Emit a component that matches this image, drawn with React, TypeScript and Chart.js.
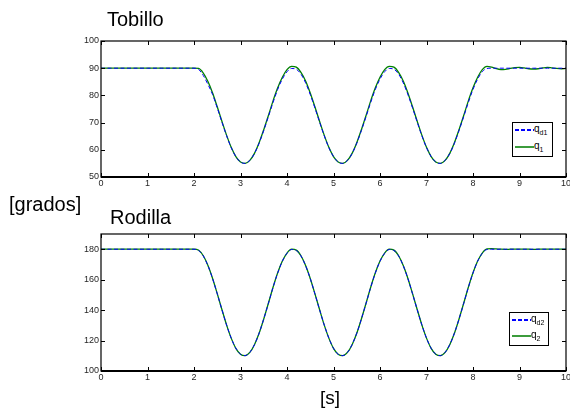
import React, { useEffect, useRef } from "react";
import { Chart, registerables } from "chart.js";

Chart.register(...registerables);

// sample times 0.0 .. 10.0 s every 0.1 s
const TIME = Array.from({ length: 101 }, (_, i) => Math.round(i) / 10);
const X_TICKS = [0, 1, 2, 3, 4, 5, 6, 7, 8, 9, 10];
const Y_TICKS_TOP = [50, 60, 70, 80, 90, 100];
const Y_TICKS_BOTTOM = [100, 120, 140, 160, 180];

// Tobillo (ankle) desired trajectory q_d1
const QD1 = [
  90, 90, 90, 90, 90, 90, 90, 90, 90, 90, 90, 90, 90, 90, 90, 90, 90, 90, 90, 90, 90,
  89.5, 87.3, 84.0, 80.3, 75.4, 70.2, 65.2, 60.8, 57.5, 55.5, 55.0, 56.1, 58.6, 62.4, 67.1, 72.2, 77.4, 82.2, 86.0, 88.7, 89.9,
  89.6, 87.8, 84.6, 80.3, 75.4, 70.2, 65.2, 60.8, 57.5, 55.5, 55.0, 56.1, 58.6, 62.4, 67.1, 72.2, 77.4, 82.2, 86.0, 88.7, 89.9,
  89.6, 87.8, 84.6, 80.3, 75.4, 70.2, 65.2, 60.8, 57.5, 55.5, 55.0, 56.1, 58.6, 62.4, 67.1, 72.2, 77.4, 82.2, 86.0, 88.7, 89.9,
  90, 90, 90, 90, 90, 90, 90, 90, 90, 90, 90, 90, 90, 90, 90, 90, 90,
];

// Tobillo measured q_1
const Q1 = [
  90, 90, 90, 90, 90, 90, 90, 90, 90, 90, 90, 90, 90, 90, 90, 90, 90, 90, 90, 90, 90,
  89.9, 88.2, 85.1, 80.9, 75.8, 70.5, 65.4, 60.9, 57.5, 55.5, 55.0, 56.1, 58.7, 62.6, 67.4, 72.6, 78.0, 82.8, 86.7, 89.5, 90.7,
  90.4, 88.5, 85.3, 80.9, 75.8, 70.5, 65.4, 60.9, 57.5, 55.5, 55.0, 56.1, 58.7, 62.6, 67.4, 72.6, 78.0, 82.8, 86.7, 89.5, 90.7,
  90.4, 88.5, 85.3, 80.9, 75.8, 70.5, 65.4, 60.9, 57.5, 55.5, 55.0, 56.1, 58.7, 62.6, 67.4, 72.6, 78.0, 82.8, 86.7, 89.5, 90.7,
  90.4, 89.8, 89.5, 89.6, 89.9, 90.2, 90.3, 90.1, 89.8, 89.7, 89.8, 90.1, 90.3, 90.1, 89.9, 89.8, 89.9,
];

// Rodilla (knee) desired trajectory q_d2
const QD2 = [
  180, 180, 180, 180, 180, 180, 180, 180, 180, 180, 180, 180, 180, 180, 180, 180, 180, 180, 180, 180, 180,
  179.2, 175.6, 169.2, 160.7, 150.7, 140.3, 130.3, 121.6, 114.9, 111.0, 110.1, 112.2, 117.3, 124.8, 134.2, 144.4, 154.9, 164.4, 172.1, 177.4, 179.8,
  179.2, 175.6, 169.2, 160.7, 150.7, 140.3, 130.3, 121.6, 114.9, 111.0, 110.1, 112.2, 117.3, 124.8, 134.2, 144.4, 154.9, 164.4, 172.1, 177.4, 179.8,
  179.2, 175.6, 169.2, 160.7, 150.7, 140.3, 130.3, 121.6, 114.9, 111.0, 110.1, 112.2, 117.3, 124.8, 134.2, 144.4, 154.9, 164.4, 172.1, 177.4, 179.8,
  180, 180, 180, 180, 180, 180, 180, 180, 180, 180, 180, 180, 180, 180, 180, 180, 180,
];

// Rodilla measured q_2
const Q2 = [
  180, 180, 180, 180, 180, 180, 180, 180, 180, 180, 180, 180, 180, 180, 180, 180, 180, 180, 180, 180, 180,
  179.3, 175.7, 169.3, 160.8, 150.8, 140.4, 130.3, 121.6, 114.9, 111.0, 110.1, 112.2, 117.3, 124.8, 134.2, 144.5, 155.0, 164.5, 172.2, 177.5, 180.0,
  179.4, 175.7, 169.3, 160.8, 150.8, 140.4, 130.3, 121.6, 114.9, 111.0, 110.1, 112.2, 117.3, 124.8, 134.2, 144.5, 155.0, 164.5, 172.2, 177.5, 180.0,
  179.4, 175.7, 169.3, 160.8, 150.8, 140.4, 130.3, 121.6, 114.9, 111.0, 110.1, 112.2, 117.3, 124.8, 134.2, 144.5, 155.0, 164.5, 172.2, 177.5, 180.2,
  180.4, 180.2, 180.0, 179.9, 180.0, 180.1, 180.1, 180.0, 180.0, 179.9, 180.0, 180.0, 180.1, 180.0, 180.0, 180.0, 180.0,
];

const FONT = "'Liberation Sans', Arial, Helvetica, sans-serif";
const BLUE = "#0000ff";
const GREEN = "#008000";

const framePlugin = {
  id: "matlabFrame",
  afterDatasetsDraw(chart: any) {
    const { ctx, chartArea: a, scales } = chart;
    ctx.save();
    ctx.strokeStyle = "#000";
    ctx.lineWidth = 1;
    ctx.beginPath();
    scales.x.ticks.forEach((t: any) => {
      const x = Math.round(scales.x.getPixelForValue(t.value)) + 0.5;
      ctx.moveTo(x, a.bottom);
      ctx.lineTo(x, a.bottom - 4);
      ctx.moveTo(x, a.top);
      ctx.lineTo(x, a.top + 4);
    });
    scales.y.ticks.forEach((t: any) => {
      const y = Math.round(scales.y.getPixelForValue(t.value)) + 0.5;
      ctx.moveTo(a.left, y);
      ctx.lineTo(a.left + 4, y);
      ctx.moveTo(a.right, y);
      ctx.lineTo(a.right - 4, y);
    });
    ctx.stroke();
    ctx.lineWidth = 1.2;
    ctx.strokeRect(a.left, a.top, a.right - a.left, a.bottom - a.top);
    ctx.lineWidth = 2;
    ctx.beginPath();
    ctx.moveTo(a.left, a.bottom);
    ctx.lineTo(a.right, a.bottom);
    ctx.stroke();
    ctx.restore();
  },
};

type PlotProps = {
  top: number;
  height: number;
  padTop: number;
  xAxisH: number;
  yMin: number;
  yMax: number;
  yTicks: number[];
  desired: number[];
  measured: number[];
};

function Plot(p: PlotProps) {
  const ref = useRef<HTMLCanvasElement | null>(null);
  useEffect(() => {
    if (!ref.current) return;
    const chart = new Chart(ref.current, {
      type: "line",
      data: {
        datasets: [
          {
            data: TIME.map((t, i) => ({ x: t, y: p.desired[i] })),
            borderColor: BLUE,
            borderWidth: 1,
            borderDash: [4, 2.5],
            pointRadius: 0,
            cubicInterpolationMode: "monotone",
            order: 0,
          },
          {
            data: TIME.map((t, i) => ({ x: t, y: p.measured[i] })),
            borderColor: GREEN,
            borderWidth: 1.3,
            pointRadius: 0,
            cubicInterpolationMode: "monotone",
            order: 1,
          },
        ],
      },
      options: {
        responsive: false,
        animation: false,
        devicePixelRatio: 1,
        layout: { padding: { top: p.padTop, right: 24, left: 0, bottom: 0 } },
        plugins: { legend: { display: false }, tooltip: { enabled: false } },
        scales: {
          x: {
            type: "linear",
            min: 0,
            max: 10,
            afterBuildTicks: (s: any) => {
              s.ticks = X_TICKS.map((v) => ({ value: v }));
            },
            afterFit: (s: any) => {
              s.height = p.xAxisH;
            },
            grid: { display: false, drawTicks: false },
            border: { display: false },
            ticks: {
              padding: 1,
              autoSkip: false,
              maxRotation: 0,
              color: "#262626",
              font: { family: FONT, size: 9 },
            },
          },
          y: {
            type: "linear",
            min: p.yMin,
            max: p.yMax,
            afterBuildTicks: (s: any) => {
              s.ticks = p.yTicks.map((v) => ({ value: v }));
            },
            afterFit: (s: any) => {
              s.width = 101;
            },
            grid: { display: false, drawTicks: false },
            border: { display: false },
            ticks: {
              padding: 2,
              color: "#262626",
              font: { family: FONT, size: 9 },
            },
          },
        },
      } as any,
      plugins: [framePlugin],
    });
    return () => chart.destroy();
  }, []);
  return (
    <div style={{ position: "absolute", left: 0, top: p.top, width: 590, height: p.height }}>
      <canvas ref={ref} width={590} height={p.height} style={{ width: 590, height: p.height }} />
    </div>
  );
}

function LegendRow(props: { y: number; dashed: boolean; sub: string }) {
  const line = props.dashed
    ? { background: `repeating-linear-gradient(to right, ${BLUE} 0px, ${BLUE} 4px, #ffffff 4px, #ffffff 6px)`, height: 1.5 }
    : { background: "#3c9c3c", height: 1.5 };
  return (
    <div
      style={{
        position: "absolute",
        left: 2,
        top: props.y - 6,
        height: 12,
        display: "flex",
        alignItems: "center",
        whiteSpace: "nowrap",
      }}
    >
      <div style={{ width: 19, ...line }} />
      <span style={{ fontSize: 10, lineHeight: "12px", color: "#000", position: "relative", top: -1 }}>q</span>
      <span style={{ fontSize: 7, lineHeight: "8px", color: "#000", position: "relative", top: 3 }}>{props.sub}</span>
    </div>
  );
}

function Legend(props: { left: number; top: number; w: number; h: number; y1: number; y2: number; sub1: string; sub2: string }) {
  return (
    <div
      style={{
        position: "absolute",
        left: props.left,
        top: props.top,
        width: props.w,
        height: props.h,
        boxSizing: "border-box",
        border: "1.5px solid #000",
        background: "#fff",
        fontFamily: FONT,
      }}
    >
      <LegendRow y={props.y1} dashed={true} sub={props.sub1} />
      <LegendRow y={props.y2} dashed={false} sub={props.sub2} />
    </div>
  );
}

export default function App() {
  const textStyle = (left: number, top: number, size: number): React.CSSProperties => ({
    position: "absolute",
    left,
    top,
    fontSize: size,
    lineHeight: `${size}px`,
    fontFamily: FONT,
    color: "#000",
    whiteSpace: "nowrap",
  });
  return (
    <div
      style={{
        position: "absolute",
        left: 0,
        top: 0,
        width: 570,
        height: 411,
        overflow: "hidden",
        background: "#fff",
      }}
    >
      <Plot top={0} height={200} padTop={41} xAxisH={23} yMin={50} yMax={100} yTicks={Y_TICKS_TOP} desired={QD1} measured={Q1} />
      <Plot top={200} height={200} padTop={34} xAxisH={29} yMin={100} yMax={190} yTicks={Y_TICKS_BOTTOM} desired={QD2} measured={Q2} />
      <div style={textStyle(107, 9, 20)}>Tobillo</div>
      <div style={textStyle(110, 207, 20)}>Rodilla</div>
      <div style={textStyle(9, 194, 20)}>[grados]</div>
      <div style={textStyle(320, 388, 19)}>[s]</div>
      <Legend left={512} top={122} w={41} h={35} y1={7} y2={24} sub1="d1" sub2="1" />
      <Legend left={509} top={312} w={40} h={34} y1={7} y2={23} sub1="d2" sub2="2" />
    </div>
  );
}
